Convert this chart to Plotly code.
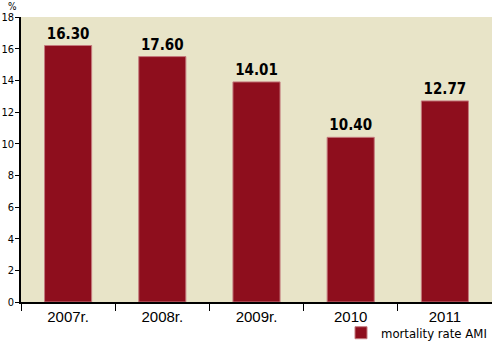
import plotly.graph_objects as go

categories = ["2007r.", "2008r.", "2009r.", "2010", "2011"]
bar_heights = [16.2, 15.5, 13.9, 10.4, 12.7]
bar_labels = ["16.30", "17.60", "14.01", "10.40", "12.77"]
y_ticks = [0, 2, 4, 6, 8, 10, 12, 14, 16, 18]
series_name = "mortality rate AMI"

BG = "#E8E4C8"
BAR = "#8E0E1D"
NARROW = "DejaVu Sans Condensed, Liberation Sans"

fig = go.Figure()
fig.add_trace(go.Bar(
    x=categories, y=bar_heights, name=series_name,
    marker=dict(color=BAR, line=dict(color="#C47A7E", width=1)),
    text=bar_labels, textposition="outside", cliponaxis=False,
    textfont=dict(family=NARROW, size=15, color="#000000"),
    texttemplate="<b>%{text}</b>",
))

fig.update_layout(
    width=492, height=344,
    margin=dict(l=21, r=0, t=17, b=42, autoexpand=False),
    paper_bgcolor="white", plot_bgcolor=BG,
    bargap=0.5,
    showlegend=True,
    legend=dict(x=1, xanchor="right", y=-0.108, yanchor="middle",
                font=dict(family=NARROW, size=13, color="#000"),
                bgcolor="rgba(0,0,0,0)", itemwidth=30),
    xaxis=dict(tickson="boundaries", ticks="outside", ticklen=7, tickcolor="#000",
               showline=True, linecolor="#000", linewidth=1.5,
               tickfont=dict(family="Liberation Sans", size=15, color="#000"),
               showgrid=False),
    yaxis=dict(range=[0, 18], tickvals=y_ticks, ticks="outside", ticklen=4,
               tickcolor="#000", showline=True, linecolor="#000", linewidth=1.5,
               showgrid=False, zeroline=False, ticklabelstandoff=-1,
               tickfont=dict(family=NARROW, size=11, color="#000")),
    annotations=[dict(text="%", x=0, y=1, xref="paper", yref="paper",
                      xanchor="right", yanchor="top", xshift=-3, yshift=17,
                      showarrow=False, borderpad=0,
                      font=dict(family=NARROW, size=10, color="#000"))],
)

fig.write_html("out.html")
